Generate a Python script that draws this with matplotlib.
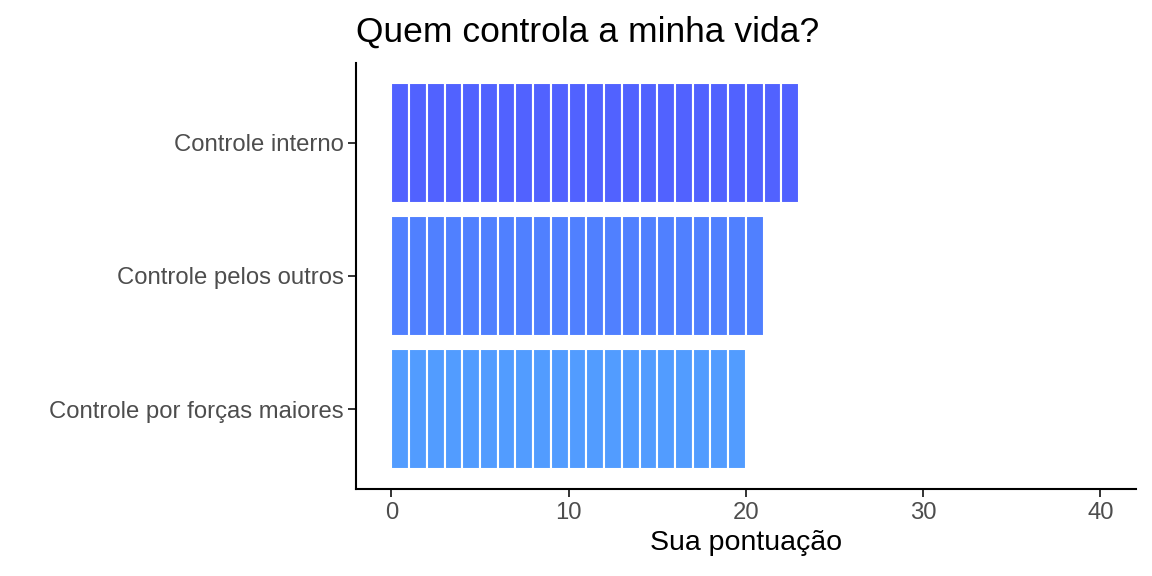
import numpy as np
import matplotlib.pyplot as plt

plt.rcParams['font.family'] = ['Liberation Sans', 'DejaVu Sans']

categories = ['Controle por forças maiores', 'Controle pelos outros', 'Controle interno']
scores = [20, 21, 23]
colors = ['#529CFF', '#5080FF', '#5162FF']
xticks = [0, 10, 20, 30, 40]

fig = plt.figure(figsize=(11.52, 5.76), dpi=100)
ax = fig.add_axes([0.309, 0.151, 0.677, 0.740])

# each point of the score is one white-edged block
for i, (score, col) in enumerate(zip(scores, colors)):
    for k in range(score):
        ax.barh(i + 1, 1, left=k, height=0.9, color=col,
                edgecolor='white', linewidth=1.5)

ax.set_xlim(-2, 42)
ax.set_ylim(0.4, 3.6)
ax.set_xticks(xticks)
ax.set_yticks(range(1, len(categories) + 1))
ax.set_yticklabels(categories)
ax.tick_params(axis='both', labelsize=17.2, labelcolor='#4D4D4D',
               color='#333333', length=5.5, width=1.4, pad=3.5)
ax.tick_params(axis='x', pad=4)
for side in ['top', 'right']:
    ax.spines[side].set_visible(False)
for side in ['left', 'bottom']:
    ax.spines[side].set_linewidth(1.5)

ax.set_xlabel('Sua pontuação', fontsize=20.5, labelpad=4)
ax.set_title('Quem controla a minha vida?', fontsize=25.5, loc='left', pad=15)

plt.savefig('out.png', dpi=100)
